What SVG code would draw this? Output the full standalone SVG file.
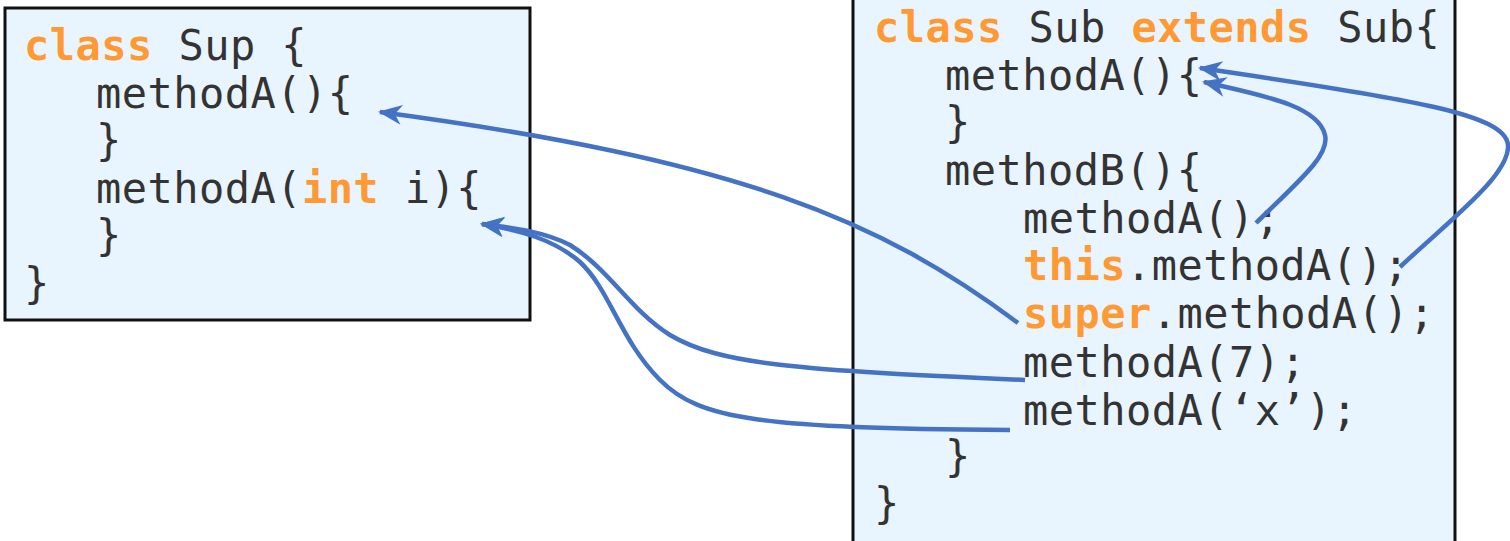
<svg xmlns="http://www.w3.org/2000/svg" width="1510" height="541" viewBox="0 0 1510 541">
<style>
.box{fill:#E8F4FE;stroke:#111;stroke-width:3}
.code{font-family:"DejaVu Sans Mono","Liberation Mono",monospace;font-size:42px;letter-spacing:0.45px;fill:#333}
.kw{font-weight:bold;fill:#FF9933}
.conn{fill:none;stroke:#4472C4;stroke-width:4.5;stroke-linecap:butt}
</style>
<defs>
<marker id="ah" markerUnits="userSpaceOnUse" markerWidth="30" markerHeight="30" refX="0" refY="0" viewBox="-26 -13 30 26" orient="auto" overflow="visible">
<path d="M2,0 L-22,-10 L-15,0 L-22,10 Z" fill="#4472C4"/>
</marker>
</defs>
<rect width="1510" height="541" fill="#fff"/>
<g id="sup">
<rect class="box" x="5" y="8" width="525" height="312"/>
<text class="code" x="24" y="60"><tspan class="kw">class</tspan> Sup {</text>
<text class="code" x="96" y="108">methodA(){</text>
<text class="code" x="96" y="155">}</text>
<text class="code" x="96" y="203">methodA(<tspan class="kw">int</tspan> i){</text>
<text class="code" x="96" y="250">}</text>
<text class="code" x="24" y="298">}</text>
</g>
<g id="sub">
<rect class="box" x="853" y="-5" width="602" height="560"/>
<text class="code" x="874" y="42"><tspan class="kw">class</tspan> Sub <tspan class="kw">extends</tspan> Sub{</text>
<text class="code" x="945" y="90">methodA(){</text>
<text class="code" x="945" y="137">}</text>
<text class="code" x="945" y="185">methodB(){</text>
<text class="code" x="1023" y="233">methodA();</text>
<text class="code" x="1023" y="280"><tspan class="kw">this</tspan>.methodA();</text>
<text class="code" x="1023" y="328"><tspan class="kw">super</tspan>.methodA();</text>
<text class="code" x="1023" y="377">methodA(7);</text>
<text class="code" x="1023" y="425">methodA(‘x’);</text>
<text class="code" x="945" y="471">}</text>
<text class="code" x="874" y="518">}</text>
</g>
<g id="connectors">
<path class="conn" marker-end="url(#ah)" d="M1018,323 C880,220 740,160 380,112"/>
<path class="conn" marker-end="url(#ah)" d="M1025,380 C800,370 720,365 670,335 C630,310 610,270 570,245 C545,232 515,228 482,224"/>
<path class="conn" marker-end="url(#ah)" d="M1010,430 C760,428 700,420 660,380 C620,340 610,290 580,262 C555,240 520,230 482,224"/>
<path class="conn" marker-end="url(#ah)" d="M1256,223 C1300,180 1330,155 1325,135 C1318,105 1260,95 1204,82"/>
<path class="conn" marker-end="url(#ah)" d="M1400,267 C1450,220 1510,175 1508,145 C1505,115 1420,100 1200,68"/>
</g>
</svg>
